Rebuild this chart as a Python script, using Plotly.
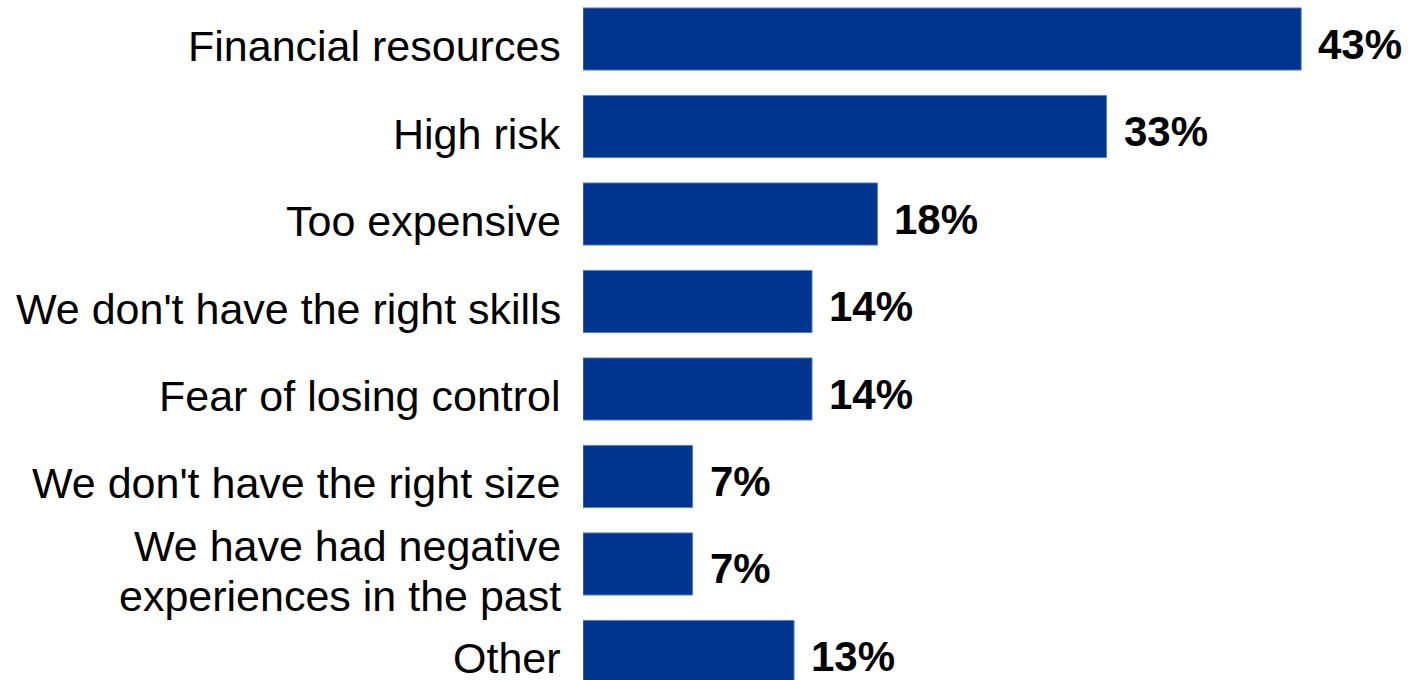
import plotly.graph_objects as go

categories = [
    "Financial resources",
    "High risk",
    "Too expensive",
    "We don't have the right skills",
    "Fear of losing control",
    "We don't have the right size",
    "We have had negative<br>experiences in the past",
    "Other",
]
values = [43.9, 32.0, 18.0, 14.0, 14.0, 6.7, 6.7, 12.9]
value_labels = ["43%", "33%", "18%", "14%", "14%", "7%", "7%", "13%"]

BAR_COLOR = "#00358F"
FONT = "Liberation Sans, Arial, sans-serif"

pos = list(range(len(categories)))

fig = go.Figure(
    go.Bar(
        x=values,
        y=pos,
        orientation="h",
        width=0.71,
        marker=dict(color=BAR_COLOR, line=dict(color="#5B7FC0", width=1)),
        hoverinfo="skip",
    )
)

annotations = []
for i, (cat, v, lab) in enumerate(zip(categories, values, value_labels)):
    lines = cat.split("<br>")
    n = len(lines)
    for j, line in enumerate(lines):
        off = (j - (n - 1) / 2) * 50
        annotations.append(dict(
            x=0, y=i, xref="paper", yref="y", text=line, showarrow=False,
            xanchor="right", yanchor="middle", xshift=-20, yshift=-7 - off,
            font=dict(family=FONT, size=43, color="#000000"),
        ))
    annotations.append(dict(
        x=v, y=i, xref="x", yref="y", text="<b>" + lab + "</b>", showarrow=False,
        xanchor="left", yanchor="middle", xshift=15, yshift=-5,
        font=dict(family=FONT, size=42, color="#000000"),
    ))

fig.update_layout(
    width=1408, height=680,
    margin=dict(l=583, r=0, t=0, b=0),
    paper_bgcolor="white", plot_bgcolor="white",
    showlegend=False,
    annotations=annotations,
    xaxis=dict(range=[0, 50.43], visible=False, fixedrange=True),
    yaxis=dict(range=[7.326, -0.446], visible=False, fixedrange=True),
)

fig.write_html("out.html", config={"displayModeBar": False})
